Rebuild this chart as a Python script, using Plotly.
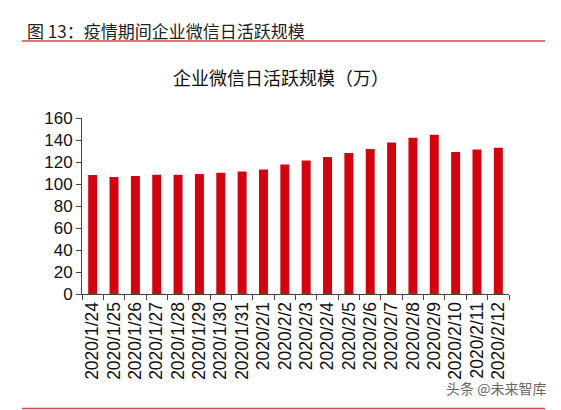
import plotly.graph_objects as go

dates = ["2020/1/24", "2020/1/25", "2020/1/26", "2020/1/27", "2020/1/28", "2020/1/29",
         "2020/1/30", "2020/1/31", "2020/2/1", "2020/2/2", "2020/2/3", "2020/2/4",
         "2020/2/5", "2020/2/6", "2020/2/7", "2020/2/8", "2020/2/9", "2020/2/10",
         "2020/2/11", "2020/2/12"]
values = [108.1, 106.3, 107.2, 108.4, 108.4, 109.0, 110.2, 111.4, 113.2, 117.8,
          121.4, 124.5, 128.1, 131.8, 137.8, 142.1, 144.8, 129.0, 131.4, 133.0]
y_ticks = [0, 20, 40, 60, 80, 100, 120, 140, 160]

W, H = 561, 410
L, R, T, B = 82, 52, 118, 116
PW, PH = W - L - R, H - T - B

def px(x):
    return (x - L) / PW

def py(y):
    return (H - B - y) / PH

FONT = "Liberation Sans, Arial, Noto Sans CJK SC, sans-serif"

fig = go.Figure(go.Bar(x=dates, y=values, marker=dict(color="#D7000F", line=dict(width=0)),
                       width=0.42))

fig.update_layout(
    width=W, height=H, margin=dict(l=L, r=R, t=T, b=B),
    paper_bgcolor="white", plot_bgcolor="white",
    font=dict(family=FONT, color="#111"),
    showlegend=False,
    xaxis=dict(type="category", tickangle=-90, tickson="boundaries", ticks="outside",
               ticklen=5, tickcolor="#444", showline=True, linecolor="#444", linewidth=1,
               showgrid=False, tickfont=dict(size=17.5, color="#111"), automargin=False),
    yaxis=dict(range=[0, 160], tickvals=y_ticks, ticks="outside", ticklen=5, tickcolor="#444",
               showline=True, linecolor="#444", linewidth=1, showgrid=False, zeroline=False,
               tickfont=dict(size=17, color="#111"), automargin=False),
    shapes=[
        dict(type="line", xref="paper", yref="paper", x0=px(22), x1=px(545), y0=py(41), y1=py(41),
             line=dict(color="#D9464B", width=1.5)),
        dict(type="line", xref="paper", yref="paper", x0=px(22), x1=px(545), y0=py(408.5), y1=py(408.5),
             line=dict(color="#D9464B", width=1.5)),
    ],
    annotations=[
        dict(text="图 13：疫情期间企业微信日活跃规模", xref="paper", yref="paper",
             x=px(25), y=py(30), xanchor="left", yanchor="middle", showarrow=False,
             font=dict(size=17, color="#222", family="Noto Sans CJK SC, Liberation Sans")),
        dict(text="企业微信日活跃规模（万）", xref="paper", yref="paper",
             x=px(281), y=py(77), xanchor="center", yanchor="middle", showarrow=False,
             font=dict(size=18, color="#111", family="Noto Sans CJK SC, Liberation Sans")),
        dict(text="头条 @未来智库", xref="paper", yref="paper",
             x=px(548), y=py(388), xanchor="right", yanchor="middle", showarrow=False,
             font=dict(size=14, color="#666", family="Noto Sans CJK SC, Liberation Sans")),
    ],
)

fig.write_html("out.html")
